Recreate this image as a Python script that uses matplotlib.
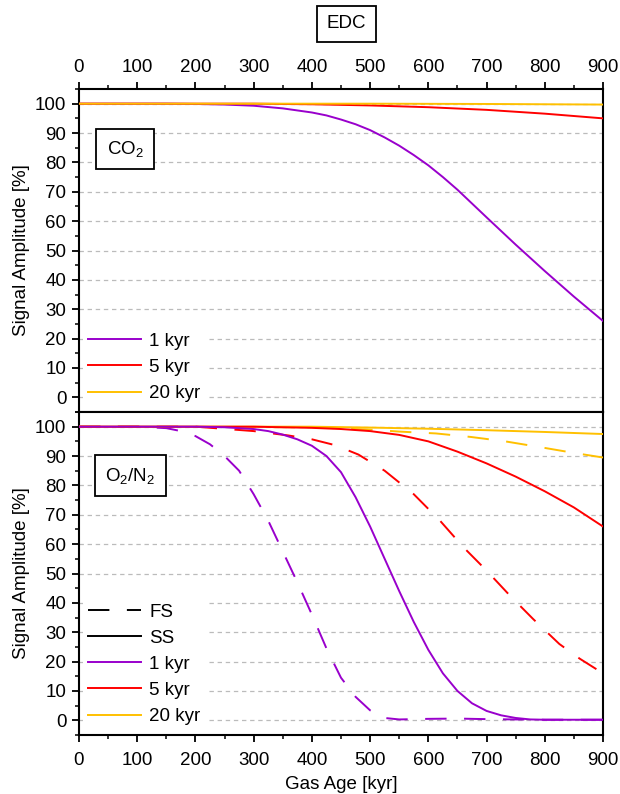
import matplotlib
matplotlib.use("Agg")
import matplotlib.pyplot as plt
from matplotlib.ticker import MultipleLocator
from matplotlib.lines import Line2D

plt.rcParams['font.family'] = ['Liberation Sans', 'DejaVu Sans']
plt.rcParams['mathtext.fontset'] = 'custom'
plt.rcParams['mathtext.rm'] = 'Liberation Sans'
plt.rcParams['mathtext.it'] = 'Liberation Sans'
plt.rcParams['mathtext.default'] = 'rm'

FS = 13.5

# ---------------- data ----------------
# CO2 panel
co2_1_x = [0, 150, 200, 250, 300, 350, 400, 425, 450, 475, 500, 525, 550, 575, 600, 625, 650, 675, 700, 750, 800, 850, 900]
co2_1_y = [100, 100, 99.9, 99.7, 99.3, 98.4, 97, 96, 94.6, 93, 91, 88.5, 85.7, 82.5, 79, 75, 70.7, 66, 61.3, 52, 43, 34.3, 26]
co2_5_x = [0, 300, 400, 500, 600, 700, 800, 900]
co2_5_y = [100, 100, 99.8, 99.4, 98.8, 97.9, 96.6, 95]
co2_20_x = [0, 500, 700, 900]
co2_20_y = [100, 100, 99.9, 99.7]

# O2/N2 panel, steady state (SS)
ss_1_x = [0, 200, 250, 300, 325, 350, 375, 400, 425, 450, 475, 500, 525, 550, 575, 600, 625, 650, 675, 700, 725, 750, 775, 800, 900]
ss_1_y = [100, 100, 99.8, 99.2, 98.5, 97.3, 95.7, 93.5, 90, 84.5, 76, 66, 55, 44, 33.5, 24, 16, 10, 5.8, 3.2, 1.7, 0.8, 0.3, 0.2, 0.2]
ss_5_x = [0, 300, 400, 450, 500, 550, 600, 650, 700, 750, 800, 850, 900]
ss_5_y = [100, 100, 99.6, 99.2, 98.5, 97.2, 95, 91.5, 87.5, 83, 78, 72.5, 66]
ss_20_x = [0, 400, 500, 600, 700, 800, 900]
ss_20_y = [100, 100, 99.7, 99.3, 98.8, 98.2, 97.5]

# O2/N2 panel, FS
fs_1_x = [0, 100, 150, 175, 200, 225, 250, 275, 300, 325, 350, 375, 400, 425, 450, 475, 500, 525, 550, 600, 650, 700, 800, 900]
fs_1_y = [100, 100, 99.5, 98.5, 96.8, 94, 90, 85, 77, 68, 57.5, 47, 36, 24.5, 14.5, 8, 3.4, 0.8, 0.3, 0.5, 0.6, 0.4, 0.2, 0.2]
fs_5_x = [0, 200, 300, 360, 400, 440, 480, 525, 575, 620, 660, 700, 740, 780, 825, 860, 900]
fs_5_y = [100, 100, 98.5, 97, 95.7, 93.7, 90.5, 85, 77, 68, 59, 51, 42.5, 34.5, 26, 21, 16]
fs_20_x = [0, 400, 500, 553, 613, 673, 732, 793, 852, 900]
fs_20_y = [100, 99.8, 99, 98.3, 97.7, 96.5, 95, 93, 91, 89.5]

x_ticks = [0, 100, 200, 300, 400, 500, 600, 700, 800, 900]
y_ticks = [0, 10, 20, 30, 40, 50, 60, 70, 80, 90, 100]

C1 = '#9900CC'
C5 = '#FF0000'
C20 = '#FFC000'
LW = 1.4
DASH = (11, 9)

W, H = 620, 794
fig = plt.figure(figsize=(W / 100, H / 100), dpi=100)
L, R = 79 / W, 603 / W
ax1 = fig.add_axes([L, 1 - 412 / H, R - L, 323 / H])
ax2 = fig.add_axes([L, 1 - 735 / H, R - L, 323 / H])

for ax in (ax1, ax2):
    ax.set_xlim(0, 900)
    ax.set_ylim(-5, 105)
    ax.set_xticks(x_ticks)
    ax.set_yticks(y_ticks)
    ax.xaxis.set_minor_locator(MultipleLocator(50))
    ax.yaxis.set_minor_locator(MultipleLocator(5))
    for g in y_ticks:
        ax.axhline(g, color='#BBBBBB', lw=0.9, ls=(0, (3.5, 3)), zorder=0)
    for s in ax.spines.values():
        s.set_linewidth(1.5)
    ax.tick_params(axis='both', which='major', direction='out', length=5, width=1.3, labelsize=FS)
    ax.tick_params(axis='both', which='minor', direction='out', length=3, width=1.1)
    ax.tick_params(axis='y', which='both', left=True, right=False, pad=4)
    ax.set_ylabel('Signal Amplitude [%]', fontsize=FS, labelpad=4)

ax1.tick_params(axis='x', which='both', top=True, bottom=False, labeltop=True, labelbottom=False)
ax1.tick_params(axis='x', which='major', pad=4.5)
ax2.tick_params(axis='x', which='both', top=False, bottom=True, labeltop=False, labelbottom=True)
ax2.tick_params(axis='x', which='major', pad=7)
ax2.set_xlabel('Gas Age [kyr]', fontsize=FS, labelpad=5)

# top panel
ax1.plot(co2_1_x, co2_1_y, color=C1, lw=LW, label='1 kyr', zorder=3)
ax1.plot(co2_5_x, co2_5_y, color=C5, lw=LW, label='5 kyr', zorder=3)
ax1.plot(co2_20_x, co2_20_y, color=C20, lw=LW, label='20 kyr', zorder=3)

# bottom panel
ax2.plot(fs_1_x, fs_1_y, color=C1, lw=LW, dashes=DASH, zorder=3)
ax2.plot(fs_5_x, fs_5_y, color=C5, lw=LW, dashes=DASH, zorder=3)
ax2.plot(fs_20_x, fs_20_y, color=C20, lw=LW, dashes=DASH, zorder=3)
ax2.plot(ss_20_x, ss_20_y, color=C20, lw=LW, zorder=3)
ax2.plot(ss_5_x, ss_5_y, color=C5, lw=LW, zorder=3)
ax2.plot(ss_1_x, ss_1_y, color=C1, lw=LW, zorder=3)

leg_kw = dict(loc='lower left', fontsize=FS, handlelength=2.83, handletextpad=0.43,
              labelspacing=0.48, borderpad=0.3, borderaxespad=0.0,
              frameon=True, fancybox=False, framealpha=1.0, edgecolor='none', facecolor='white')
lg1 = ax1.legend(bbox_to_anchor=(0.007, 0.013), **leg_kw)
lg1.set_zorder(5)

handles = [Line2D([], [], color='black', lw=LW, dashes=DASH),
           Line2D([], [], color='black', lw=LW),
           Line2D([], [], color=C1, lw=LW),
           Line2D([], [], color=C5, lw=LW),
           Line2D([], [], color=C20, lw=LW)]
labels = ['FS', 'SS', '1 kyr', '5 kyr', '20 kyr']
lg2 = ax2.legend(handles, labels, bbox_to_anchor=(0.007, 0.013), **leg_kw)
lg2.set_zorder(5)

box = dict(boxstyle='square,pad=0.55', facecolor='white', edgecolor='black', linewidth=1.3)
ax1.text(79, 84.6, r'CO$_2$', fontsize=FS, ha='center', va='center', bbox=box, zorder=6)
ax2.text(88, 83.3, r'O$_2$/N$_2$', fontsize=FS, ha='center', va='center', bbox=box, zorder=6)

fig.text(346.5 / W, 1 - 24 / H, 'EDC', fontsize=FS, ha='center', va='center',
         bbox=dict(boxstyle='square,pad=0.5', facecolor='white', edgecolor='black', linewidth=1.3))

fig.savefig('out.png', dpi=100)
